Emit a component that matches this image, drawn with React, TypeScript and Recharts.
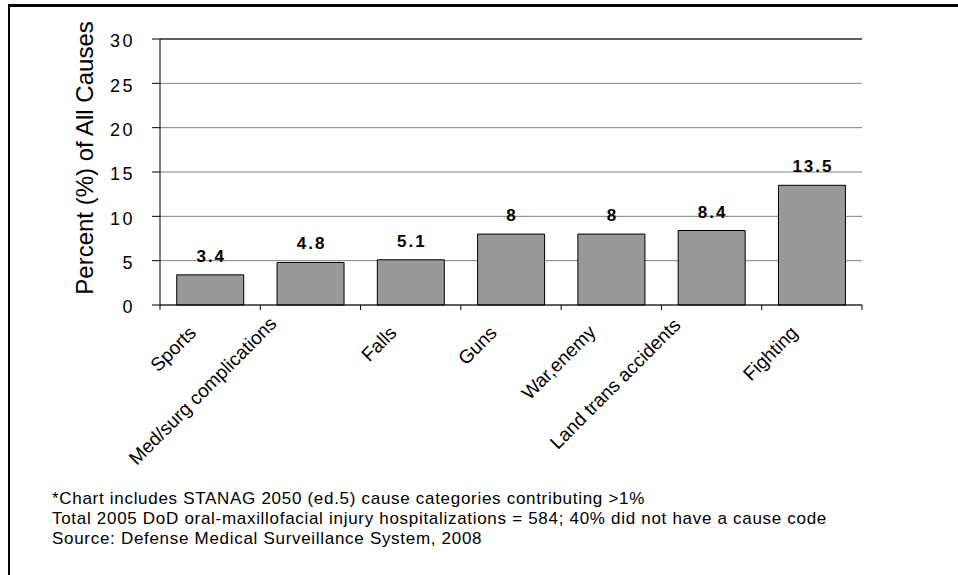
import { Bar, BarChart, CartesianGrid, LabelList, ReferenceLine, XAxis, YAxis } from "recharts";

const causes = [
  "Sports",
  "Med/surg complications",
  "Falls",
  "Guns",
  "War,enemy",
  "Land trans accidents",
  "Fighting",
];
const percents = [3.4, 4.8, 5.1, 8, 8, 8.4, 13.5];
const yTicks = [0, 5, 10, 15, 20, 25, 30];
const yTitle = "Percent (%) of All Causes";
const notes = [
  "*Chart includes STANAG 2050 (ed.5) cause categories contributing >1%",
  "Total 2005 DoD oral-maxillofacial injury hospitalizations = 584; 40% did not have a cause code",
  "Source: Defense Medical Surveillance System, 2008",
];

const FONT = "'Liberation Sans', Arial, sans-serif";
const CHART_W = 940;
const CHART_H = 470;
const MARGIN = { top: 32, right: 88, bottom: 22, left: 0 };
const Y_AXIS_W = 150;
// width of one category slot, used to put the x ticks between the bars like Excel does
const BAND = (CHART_W - MARGIN.right - Y_AXIS_W) / causes.length;

const rows = causes.map((cause, i) => ({ cause, pct: percents[i] }));

function CauseTick({ x, y, payload, index }: any) {
  // long labels sit a bit further up-left, as in the original
  const extra = Math.max(0, String(payload.value).length - 8);
  const ax = x - 13 - extra * 1.4;
  const ay = y + 29 - extra * 0.65;
  return (
    <g>
      <line x1={x - BAND / 2} y1={y} x2={x - BAND / 2} y2={y + 5} stroke="#000" />
      {index === causes.length - 1 && (
        <line x1={x + BAND / 2} y1={y} x2={x + BAND / 2} y2={y + 5} stroke="#000" />
      )}
      <text
        x={ax}
        y={ay}
        textAnchor="end"
        transform={`rotate(-45 ${ax} ${ay})`}
        fontFamily={FONT}
        fontSize={19}
        fill="#000"
      >
        {payload.value}
      </text>
    </g>
  );
}

function PctTick({ x, y, payload }: any) {
  return (
    <text
      x={x + 2}
      y={y + 2}
      dy="0.36em"
      textAnchor="end"
      fontFamily={FONT}
      fontSize={18}
      letterSpacing={2.5}
      fill="#000"
    >
      {payload.value}
    </text>
  );
}

function YTitle() {
  return (
    <text
      x={83}
      y={151}
      textAnchor="middle"
      transform="rotate(-90 83 151)"
      fontFamily={FONT}
      fontSize={24}
      fill="#000"
    >
      {yTitle}
    </text>
  );
}

function BarValue({ x, y, width, value }: any) {
  return (
    <text
      x={x + width / 2 + 1}
      y={y - 13}
      textAnchor="middle"
      fontFamily={FONT}
      fontSize={17}
      fontWeight="bold"
      letterSpacing={2}
      fill="#000"
    >
      {value}
    </text>
  );
}

export default function App() {
  return (
    <div
      style={{
        position: "absolute",
        left: 8,
        top: 4,
        width: 950,
        height: 571,
        boxSizing: "border-box",
        borderTop: "3px solid #000",
        borderLeft: "2px solid #000",
        background: "#fff",
        overflow: "hidden",
      }}
    >
      <div style={{ position: "absolute", left: 0, top: 0 }}>
        <BarChart width={CHART_W} height={CHART_H} data={rows} margin={MARGIN} barCategoryGap="16.7%">
          <CartesianGrid horizontal vertical={false} stroke="#808080" />
          <XAxis
            dataKey="cause"
            interval={0}
            height={150}
            tickSize={0}
            tickMargin={0}
            tickLine={false}
            axisLine={{ stroke: "#000" }}
            tick={<CauseTick />}
          />
          <XAxis xAxisId="top" orientation="top" height={0} tick={false} tickLine={false} axisLine={false} />
          <YAxis
            domain={[0, 30]}
            ticks={yTicks}
            interval={0}
            width={Y_AXIS_W}
            tickSize={8}
            tickMargin={19}
            tickLine={{ stroke: "#000" }}
            axisLine={{ stroke: "#000" }}
            tick={<PctTick />}
            label={<YTitle />}
          />
          <YAxis
            yAxisId="frame"
            orientation="right"
            domain={[0, 30]}
            width={0}
            tick={false}
            tickLine={false}
            axisLine={{ stroke: "#000" }}
          />
          <ReferenceLine y={30} stroke="#000" />
          <Bar dataKey="pct" fill="#999999" stroke="#000" strokeWidth={1} isAnimationActive={false}>
            <LabelList dataKey="pct" content={<BarValue />} />
          </Bar>
        </BarChart>
      </div>
      <div
        style={{
          position: "absolute",
          left: 42,
          top: 482,
          fontFamily: FONT,
          fontSize: 17,
          letterSpacing: 0.7,
          lineHeight: "20px",
          color: "#000",
          whiteSpace: "nowrap",
        }}
      >
        {notes.map((n) => (
          <div key={n}>{n}</div>
        ))}
      </div>
    </div>
  );
}
